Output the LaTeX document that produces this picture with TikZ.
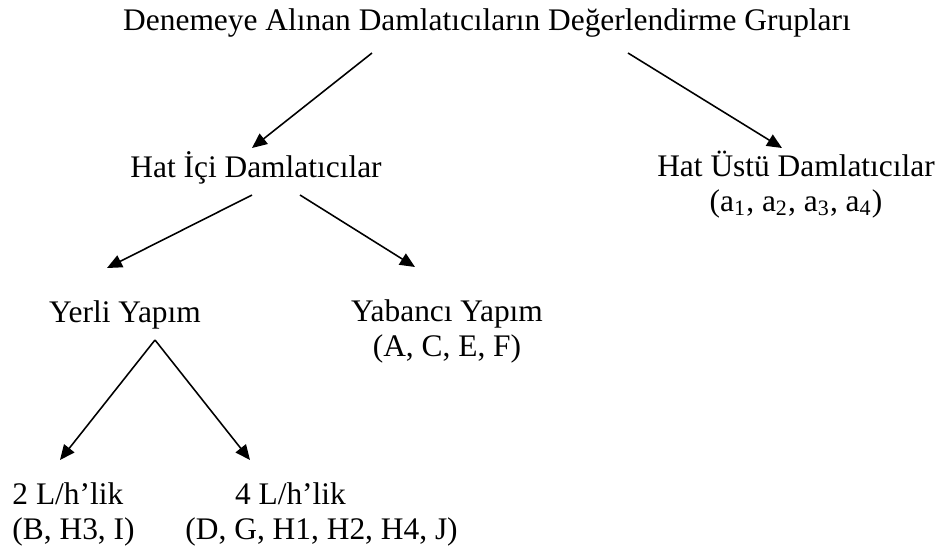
\documentclass[tikz,border=0pt]{standalone}
\usepackage{fontspec}
\setmainfont{Liberation Serif}
\usetikzlibrary{arrows.meta,calc}
\tikzset{
  dg label/.style={font=\fontsize{13}{14.1}\selectfont, inner sep=0pt, align=center},
  dg arrow/.style={draw=black, line width=0.65pt, -{Triangle[length=6.2pt,width=5.4pt]}},
}
\begin{document}
\begin{tikzpicture}[x=0.4138pt,y=-0.4138pt]
\fill[white] (0,0) rectangle (947,557);
% groups (base = last line)
\node[dg label,anchor=base] (grup) at (487,30) {Denemeye Alınan Damlatıcıların Değerlendirme Grupları};
\node[dg label,anchor=base] (hatici) at (256,177) {Hat İçi Damlatıcılar};
\node[dg label,anchor=base] (hatustu) at (796,211) {Hat Üstü Damlatıcılar\\(a\textsubscript{1}, a\textsubscript{2}, a\textsubscript{3}, a\textsubscript{4})};
\node[dg label,anchor=base] (yerli) at (125,322) {Yerli Yapım};
\node[dg label,anchor=base] (yabanci) at (447,356) {Yabancı Yapım\\(A, C, E, F)};
\node[dg label,align=left,anchor=base west] (iki) at (12,539) {2 L/h’lik\\(B, H3, I)};
\node[dg label,align=left,anchor=base west] (dort) at (185,539) {\hspace*{20.5pt}4 L/h’lik\\(D, G, H1, H2, H4, J)};
% arrows
\draw[dg arrow] ($(grup.base)+(-115,23)$) -- ($(hatici.base)+(-4,-29)$);
\draw[dg arrow] ($(grup.base)+(141,23)$) -- ($(hatustu.base)+(-14,-63)$);
\draw[dg arrow] ($(hatici.base)+(-4,18)$) -- ($(yerli.base)+(-18,-54)$);
\draw[dg arrow] ($(hatici.base)+(44,18)$) -- ($(yabanci.base)+(-32,-89)$);
\draw[dg arrow] ($(yerli.base)+(30,18)$) -- ($(iki.base west)+(48,-79)$);
\draw[dg arrow] ($(yerli.base)+(30,18)$) -- ($(dort.base west)+(65,-79)$);
\end{tikzpicture}
\end{document}
